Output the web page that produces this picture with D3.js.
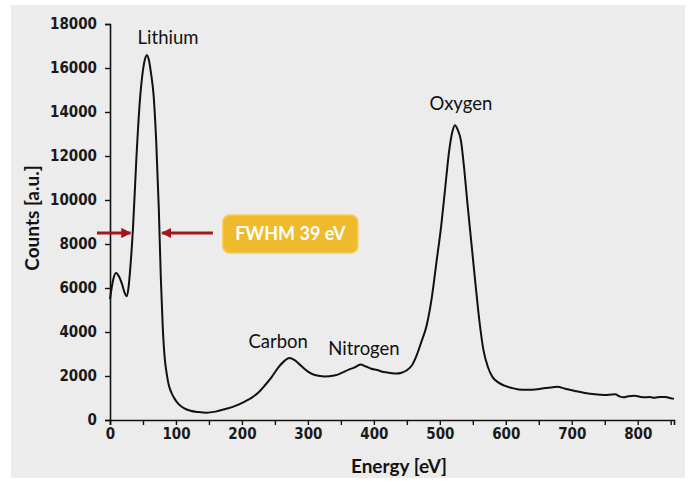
<!DOCTYPE html>
<html>
<head>
<meta charset="utf-8">
<script src="https://cdn.jsdelivr.net/npm/d3@7"></script>
<style>
  body { margin: 0; background: #fff; }
  .tick text { font-family: "DejaVu Sans Condensed", "DejaVu Sans"; font-weight: bold; font-size: 15px; fill: #1a1a1a; }
</style>
</head>
<body>
<div id="chart"></div>
<script>
// spectrum
const energy = [0, 5, 9, 14, 18, 22, 25, 28, 31, 35, 40, 45, 50, 53, 56, 59, 62, 66, 70, 74, 77, 80, 83, 86, 89, 93, 98, 104, 112, 122, 134, 146, 160, 175, 190, 205, 215, 225, 235, 245, 255, 265, 272, 280, 290, 300, 312, 325, 340, 352, 362, 370, 380, 388, 396, 405, 415, 425, 435, 442, 450, 458, 465, 472, 480, 488, 495, 502, 508, 514, 519, 523, 527, 532, 537, 542, 548, 554, 560, 566, 573, 580, 588, 598, 610, 625, 640, 655, 668, 678, 690, 705, 720, 735, 750, 760, 766, 772, 778, 786, 795, 803, 810, 818, 826, 834, 842, 850, 855];
const counts = [5500, 6400, 6680, 6500, 6200, 5800, 5620, 6000, 7000, 8800, 11900, 14400, 15900, 16400, 16580, 16350, 15800, 14800, 12700, 9600, 6500, 4200, 2800, 2100, 1600, 1250, 960, 720, 540, 420, 360, 330, 380, 500, 640, 850, 1020, 1250, 1580, 1950, 2380, 2700, 2820, 2720, 2450, 2200, 2030, 1980, 2020, 2150, 2290, 2380, 2520, 2430, 2330, 2270, 2180, 2140, 2110, 2150, 2260, 2500, 2950, 3550, 4300, 5600, 7200, 8800, 10500, 12200, 13100, 13400, 13200, 12700, 11400, 9800, 8000, 6200, 4500, 3200, 2400, 1950, 1720, 1560, 1450, 1370, 1380, 1430, 1480, 1510, 1420, 1320, 1230, 1170, 1140, 1160, 1170, 1080, 1030, 1080, 1100, 1060, 1030, 1040, 1010, 1050, 1040, 990, 960];

const xTicks = [0, 50, 100, 150, 200, 250, 300, 350, 400, 450, 500, 550, 600, 650, 700, 750, 800, 850];
const yTicks = [0, 2000, 4000, 6000, 8000, 10000, 12000, 14000, 16000, 18000];

const peakNames = ['Lithium', 'Carbon', 'Nitrogen', 'Oxygen'];
const peakLabelE = [88, 255, 385, 532];
const peakLabelC = [17090, 3270, 2950, 14090];

// FWHM marker of the lithium peak
const fwhmText = 'FWHM 39 eV';
const fwhmLevel = 8500;
const fwhmEdges = [31, 79];

const width = 690, height = 482;
const x = d3.scaleLinear().domain([0, 855]).range([110, 674]);
const y = d3.scaleLinear().domain([0, 18000]).range([420, 24]);

const svg = d3.select('#chart').append('svg')
  .attr('width', width)
  .attr('height', height);

svg.append('rect')
  .attr('x', 11).attr('y', 5)
  .attr('width', 674).attr('height', 473)
  .attr('fill', '#ececec');

const defs = svg.append('defs');
defs.append('marker')
  .attr('id', 'head')
  .attr('viewBox', '0 0 10 10')
  .attr('refX', 9).attr('refY', 5)
  .attr('markerWidth', 3.4).attr('markerHeight', 3.4)
  .attr('markerUnits', 'strokeWidth')
  .attr('orient', 'auto')
  .append('path')
  .attr('d', 'M0,0 L10,5 L0,10 Z')
  .attr('fill', '#a3151a');

// axes
const xAxis = svg.append('g')
  .attr('transform', `translate(0,${y(0)})`)
  .call(d3.axisBottom(x).tickValues(xTicks)
    .tickFormat(d => d % 100 === 0 ? d : '')
    .tickSize(5).tickPadding(3));

const yAxis = svg.append('g')
  .attr('transform', `translate(${x(0)},0)`)
  .call(d3.axisLeft(y).tickValues(yTicks).tickFormat(d3.format('d'))
    .tickSize(5).tickPadding(8));

[xAxis, yAxis].forEach(g => {
  g.select('.domain').attr('stroke', '#111').attr('stroke-width', 1.6);
  g.selectAll('.tick line').attr('stroke', '#111').attr('stroke-width', 1.4);
});

// spectrum line
const line = d3.line()
  .x((d, i) => x(energy[i]))
  .y(d => y(d))
  .curve(d3.curveMonotoneX);

svg.append('path')
  .datum(counts)
  .attr('d', line)
  .attr('fill', 'none')
  .attr('stroke', '#111')
  .attr('stroke-width', 2);

// peak labels
svg.selectAll('.peak')
  .data(peakNames)
  .enter()
  .append('text')
  .attr('class', 'peak')
  .attr('x', (d, i) => x(peakLabelE[i]))
  .attr('y', (d, i) => y(peakLabelC[i]))
  .attr('text-anchor', 'middle')
  .attr('font-family', 'Lato, "Open Sans", sans-serif')
  .attr('font-size', '18.5px')
  .attr('fill', '#111')
  .text(d => d);

// FWHM arrows
svg.append('line')
  .attr('x1', x(0) - 13).attr('x2', x(fwhmEdges[0]))
  .attr('y1', y(fwhmLevel)).attr('y2', y(fwhmLevel))
  .attr('stroke', '#a3151a').attr('stroke-width', 3)
  .attr('marker-end', 'url(#head)');

svg.append('line')
  .attr('x1', x(156)).attr('x2', x(fwhmEdges[1]))
  .attr('y1', y(fwhmLevel)).attr('y2', y(fwhmLevel))
  .attr('stroke', '#a3151a').attr('stroke-width', 3)
  .attr('marker-end', 'url(#head)');

const box = svg.append('g')
  .attr('transform', `translate(${x(171)},${y(fwhmLevel) - 18})`);
box.append('rect')
  .attr('width', 135).attr('height', 38)
  .attr('rx', 7)
  .attr('fill', '#efbb2c')
  .attr('stroke', '#f5cd5c')
  .attr('stroke-width', 1.5);
box.append('text')
  .attr('x', 67.5).attr('y', 25)
  .attr('text-anchor', 'middle')
  .attr('font-family', 'Lato, "Open Sans", sans-serif')
  .attr('font-weight', 'bold')
  .attr('font-size', '18px')
  .attr('fill', '#fff')
  .text(fwhmText);

// axis titles
svg.append('text')
  .attr('x', (x(0) + x(855)) / 2 + 7)
  .attr('y', 473)
  .attr('text-anchor', 'middle')
  .attr('font-family', 'Lato, "Open Sans", sans-serif')
  .attr('font-weight', 'bold')
  .attr('font-size', '19px')
  .attr('fill', '#111')
  .text('Energy [eV]');

svg.append('text')
  .attr('transform', 'translate(39,218) rotate(-90)')
  .attr('text-anchor', 'middle')
  .attr('font-family', 'Lato, "Open Sans", sans-serif')
  .attr('font-weight', 'bold')
  .attr('font-size', '19px')
  .attr('fill', '#111')
  .text('Counts [a.u.]');
</script>
</body>
</html>
